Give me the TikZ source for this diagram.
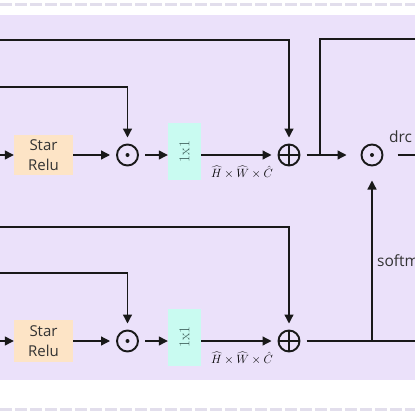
\documentclass[tikz,border=0pt]{standalone}
\usepackage{fontspec}
\newfontfamily\sansf{Open Sans}
\usetikzlibrary{arrows.meta}
\definecolor{lav}{HTML}{EBE1FA}
\definecolor{peach}{HTML}{FDE4C6}
\definecolor{aqua}{HTML}{C9FBF1}
\definecolor{dashc}{HTML}{E2DEEC}
\definecolor{txt}{HTML}{333333}
\definecolor{tealtxt}{HTML}{3D5F5A}
\tikzset{
  ln/.style={line width=1.3pt, draw=black!90},
  arr/.style={ln, -{Triangle[length=9pt,width=9pt]}},
  opc/.style={circle, draw=black!90, line width=1.9pt, minimum size=21pt, inner sep=0pt, outer sep=7pt},
  odotn/.style={opc, path picture={\fill[black!90] (path picture bounding box.center) circle (2pt);}},
  oplusn/.style={opc, path picture={\draw[line width=1.9pt, black!90] (path picture bounding box.north) -- (path picture bounding box.south) (path picture bounding box.west) -- (path picture bounding box.east);}},
  srbox/.style={fill=peach, minimum width=59pt, minimum height=40pt, inner sep=0pt, align=center, text=txt, font=\sansf\fontsize{15}{20}\selectfont},
  cbox/.style={fill=aqua, minimum width=33pt, minimum height=57pt, inner sep=0pt, text=tealtxt, font=\fontsize{15}{17}\selectfont},
  lab/.style={inner sep=0pt, font=\fontsize{11.5}{13}\selectfont},
  sidetxt/.style={inner sep=0pt, anchor=base west, text=txt, font=\sansf\fontsize{15.5}{17}\selectfont},
  dashln/.style={draw=dashc, line width=3pt, dash pattern=on 12pt off 3pt}
}
\begin{document}
\begin{tikzpicture}[x=1pt,y=-1pt]
\useasboundingbox (0,0) rectangle (415,415);
\clip (0,0) rectangle (415,415);
\fill[lav] (0,15) rectangle (415,380);
\draw[dashln] (0,4) -- (415,4);
\draw[dashln] (0,409) -- (415,409);

% top row
\node[srbox] (sr1) at (43.5,155) {Star\\Relu};
\node[odotn] (od1) at (127.5,155) {};
\node[cbox] (c1) at (184.5,151.5) {\rotatebox{90}{1x1}};
\node[oplusn] (op1) at (289,155) {};
\node[odotn, outer sep=15pt] (od3) at (372,155) {};
\node[lab] (l1) at (242,172) {$\widehat{H}\times\widehat{W}\times\hat{C}$};
\node[sidetxt] (drc) at (389,142) {drc};

\coordinate (a1) at (0,40);
\coordinate (b1) at (0,87);
\coordinate (i1) at (0,155);
\coordinate (j1) at (320,155);
\coordinate (t1) at (415,39);
\coordinate (o3) at (415,155);
\draw[arr] (a1) -| (op1);
\draw[arr] (b1) -| (od1);
\draw[arr] (i1) -- (sr1);
\draw[arr] (sr1) -- (od1);
\draw[arr] (od1) -- (c1.west |- od1);
\draw[arr] (c1.east |- op1) -- (op1);
\draw[arr] (op1) -- (od3);
\draw[ln] (j1) |- (t1);
\draw[ln] (od3) -- (o3);

% bottom row
\node[srbox, minimum height=42pt] (sr2) at (43.5,341) {Star\\Relu};
\node[odotn] (od2) at (127.5,341) {};
\node[cbox] (c2) at (184.5,337) {\rotatebox{90}{1x1}};
\node[oplusn] (op2) at (289,341) {};
\node[lab] (l2) at (242,358) {$\widehat{H}\times\widehat{W}\times\hat{C}$};
\node[sidetxt] (sm) at (377,266) {softm};

\coordinate (a2) at (0,227);
\coordinate (b2) at (0,273);
\coordinate (i2) at (0,341);
\coordinate (j2) at (372,341);
\coordinate (o2) at (415,341);
\draw[arr] (a2) -| (op2);
\draw[arr] (b2) -| (od2);
\draw[arr] (i2) -- (sr2);
\draw[arr] (sr2) -- (od2);
\draw[arr] (od2) -- (c2.west |- od2);
\draw[arr] (c2.east |- op2) -- (op2);
\draw[ln] (op2) -- (o2);
\draw[arr] (j2) -- (od3);
\end{tikzpicture}
\end{document}
